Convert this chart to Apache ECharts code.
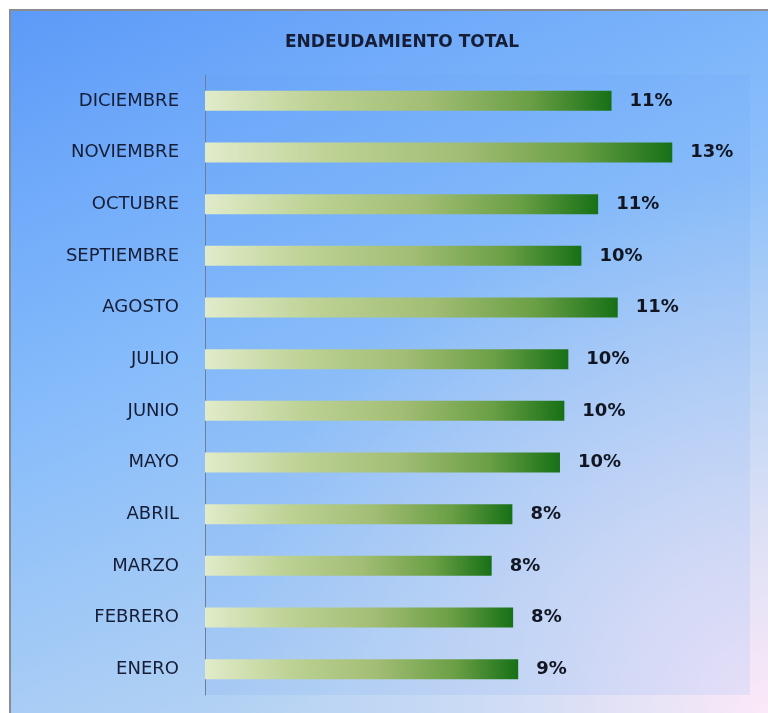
<!DOCTYPE html>
<html lang="es">
	<head>
		<meta charset="UTF-8">
		<title>Endeudamiento total</title>
		<script src="https://cdn.jsdelivr.net/npm/echarts@6/dist/echarts.min.js"></script>
		<style>
			html, body {
				margin: 0;
				padding: 0;
				background: #fff;
			}
			#main {
				width: 768px;
				height: 713px;
			}
		</style>
	</head>

	<body>
		<div id="main"></div>
	</body>

	<script>
		// months from bottom to top of the chart
		let months = ["ENERO", "FEBRERO", "MARZO", "ABRIL", "MAYO", "JUNIO",
			"JULIO", "AGOSTO", "SEPTIEMBRE", "OCTUBRE", "NOVIEMBRE", "DICIEMBRE"];
		// endeudamiento total (%)
		let debtRatio = [8.62, 8.48, 7.89, 8.46, 9.77, 9.89, 10.0, 11.36, 10.36, 10.82, 12.86, 11.19];

		let textColor = "#161d36";
		let font = "DejaVu Sans";

		let option = {
			backgroundColor: "#fff",
			animation: false,
			title: {
				text: "ENDEUDAMIENTO TOTAL",
				left: 397,
				textAlign: "center",
				top: 29,
				textStyle: {
					color: textColor,
					fontFamily: font,
					fontWeight: "bold",
					fontSize: 17
				}
			},
			graphic: [{
				type: "rect",
				z: -10,
				silent: true,
				shape: { x: 10, y: 10, width: 780, height: 730 },
				style: {
					fill: {
						type: "linear", x: 10, y: 10, x2: 300, y2: 710, global: true,
						colorStops: [
							{ offset: 0, color: "#5c9af8" },
							{ offset: 0.5, color: "#86bcfb" },
							{ offset: 1, color: "#b6d3f3" }
						]
					},
					stroke: "#8c8c8c",
					lineWidth: 2
				}
			}, {
				// pink glow in the lower right corner
				type: "rect",
				z: -9,
				silent: true,
				shape: { x: 11, y: 11, width: 780, height: 730 },
				style: {
					fill: {
						type: "radial", x: 768, y: 713, r: 540, global: true,
						colorStops: [
							{ offset: 0, color: "rgba(252,232,248,1)" },
							{ offset: 0.3, color: "rgba(232,228,246,0.85)" },
							{ offset: 1, color: "rgba(200,220,245,0)" }
						]
					}
				}
			}],
			grid: {
				left: 205,
				right: 18,
				top: 75,
				bottom: 18,
				show: true,
				borderWidth: 0,
				backgroundColor: "rgba(95,160,250,0.12)"
			},
			xAxis: {
				type: "value",
				min: 0,
				max: 15,
				show: false
			},
			yAxis: {
				type: "category",
				data: months,
				axisTick: { show: false },
				axisLine: { lineStyle: { color: "#6e7e96", width: 1 } },
				axisLabel: {
					margin: 26,
					color: textColor,
					fontFamily: font,
					fontSize: 18
				}
			},
			series: [{
				type: "bar",
				data: debtRatio,
				barWidth: 20,
				itemStyle: {
					color: {
						type: "linear", x: 0, y: 0, x2: 1, y2: 0,
						colorStops: [
							{ offset: 0, color: "#e1ebca" },
							{ offset: 0.28, color: "#bcd193" },
							{ offset: 0.55, color: "#a2bd74" },
							{ offset: 0.8, color: "#6a9f45" },
							{ offset: 1, color: "#177016" }
						]
					}
				},
				label: {
					show: true,
					position: "right",
					distance: 18,
					color: "#111622",
					fontFamily: font,
					fontWeight: "bold",
					fontSize: 18,
					formatter: (p) => Math.round(p.value) + "%"
				}
			}]
		};

		let chart = echarts.init(document.getElementById("main"));
		chart.setOption(option);
	</script>
</html>
